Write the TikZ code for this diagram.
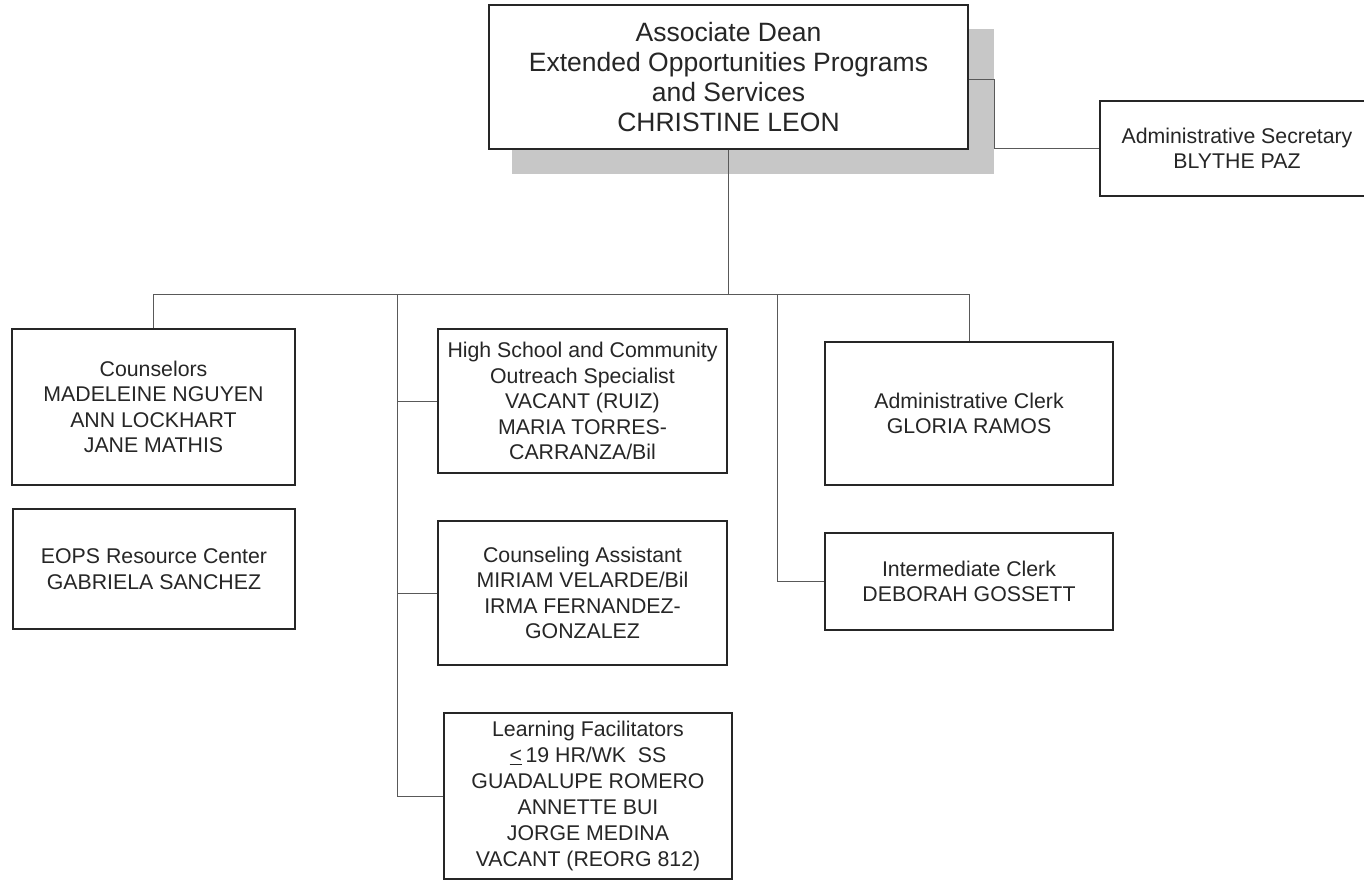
\documentclass[tikz,border=0pt]{standalone}
\usepackage{fontspec}
\setmainfont{Liberation Sans}
\begin{document}
\begin{tikzpicture}[x=1pt,y=-1pt,
  box/.style={draw=black!85, line width=1.3pt, fill=white, align=center,
    font=\fontsize{21.3}{25.4}\selectfont, inner sep=0pt, text=black!85},
  bigbox/.style={box, font=\fontsize{26.5}{30.3}\selectfont},
  conn/.style={draw=black!65, line width=1pt}]
\useasboundingbox (0,0) rectangle (1364,881);
% shadow
\fill[black!22] (512,29) rectangle (994,174);
\node[bigbox, minimum width=479pt, minimum height=144pt] (dean) at (728.5,77)
  {Associate Dean\\Extended Opportunities Programs\\and Services\\CHRISTINE LEON};
\node[box, minimum width=274pt, minimum height=95pt] (sec) at (1237,148.5)
  {Administrative Secretary\\BLYTHE PAZ};
\node[box, minimum width=283pt, minimum height=156pt] (couns) at (153.5,407)
  {Counselors\\MADELEINE NGUYEN\\ANN LOCKHART\\JANE MATHIS};
\node[box, minimum width=282pt, minimum height=120pt] (eops) at (154,569)
  {EOPS Resource Center\\GABRIELA SANCHEZ};
\node[box, minimum width=289pt, minimum height=144pt] (hs) at (582.5,401)
  {High School and Community\\Outreach Specialist\\VACANT (RUIZ)\\MARIA TORRES-\\CARRANZA/Bil};
\node[box, minimum width=289pt, minimum height=144pt] (ca) at (582.5,593)
  {Counseling Assistant\\MIRIAM VELARDE/Bil\\IRMA FERNANDEZ-\\GONZALEZ};
\node[box, minimum width=288pt, minimum height=166pt, font=\fontsize{21.3}{26}\selectfont] (lf) at (588,796)
  {Learning Facilitators\\\underline{<}\,19 HR/WK\ \ SS\\GUADALUPE ROMERO\\ANNETTE BUI\\JORGE MEDINA\\VACANT (REORG 812)};
\node[box, minimum width=288pt, minimum height=143pt] (ac) at (969,413.5)
  {Administrative Clerk\\GLORIA RAMOS};
\node[box, minimum width=288pt, minimum height=97pt] (ic) at (969,581.5)
  {Intermediate Clerk\\DEBORAH GOSSETT};
% connectors
\coordinate (busL) at (153.5,294);
\coordinate (busR) at (969,294);
\coordinate (busM) at (728.5,294);
\coordinate (v1) at (397.5,294);
\coordinate (v2) at (777,294);
\coordinate (sj) at (994,79);
\draw[conn] (dean.south) -- (busM);
\draw[conn] (busL) -- (busR);
\draw[conn] (busL) -- (couns.north);
\draw[conn] (busR) -- (ac.north);
\draw[conn] (v1) |- (lf.west);
\draw[conn] (v1 |- hs.west) -- (hs.west);
\draw[conn] (v1 |- ca.west) -- (ca.west);
\draw[conn] (v2) |- (ic.west);
\draw[conn] (dean.east |- sj) -- (sj) |- (sec.west);
\end{tikzpicture}
\end{document}
